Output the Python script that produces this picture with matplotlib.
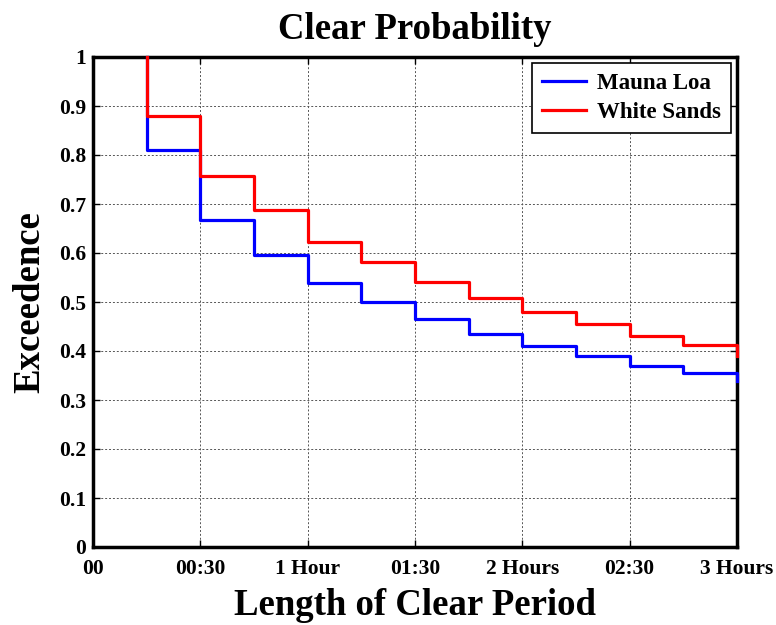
import matplotlib
matplotlib.use("Agg")
import matplotlib.pyplot as plt

# minutes since start of clear period
minutes = [15, 30, 45, 60, 75, 90, 105, 120, 135, 150, 165, 180, 180]
mauna_loa = [1.0, 0.810, 0.668, 0.595, 0.538, 0.500, 0.466, 0.434, 0.410, 0.389, 0.370, 0.355, 0.339]
white_sands = [1.0, 0.879, 0.757, 0.688, 0.622, 0.582, 0.541, 0.509, 0.479, 0.456, 0.431, 0.413, 0.390]

xtick_pos = [0, 30, 60, 90, 120, 150, 180]
xtick_labels = ["00", "00:30", "1 Hour", "01:30", "2 Hours", "02:30", "3 Hours"]
ytick_pos = [0, 0.1, 0.2, 0.3, 0.4, 0.5, 0.6, 0.7, 0.8, 0.9, 1]
ytick_labels = ["0", "0.1", "0.2", "0.3", "0.4", "0.5", "0.6", "0.7", "0.8", "0.9", "1"]

plt.rcParams["font.family"] = "Liberation Serif"
plt.rcParams["font.weight"] = "bold"

fig = plt.figure(figsize=(7.76, 6.25), dpi=100)
ax = fig.add_axes([93 / 776, 1 - 547 / 625, (737 - 93) / 776, (547 - 57) / 625])

ax.plot(minutes, mauna_loa, drawstyle="steps-pre", color="#0000ff", lw=2.3,
        label="Mauna Loa", clip_on=False, zorder=5)
ax.plot(minutes, white_sands, drawstyle="steps-pre", color="#ff0000", lw=2.3,
        label="White Sands", clip_on=False, zorder=6)

ax.set_xlim(0, 180)
ax.set_ylim(0, 1)
ax.set_xticks(xtick_pos)
ax.set_xticklabels(xtick_labels, fontsize=15.5, fontweight="bold")
ax.set_yticks(ytick_pos)
ax.set_yticklabels(ytick_labels, fontsize=15.5, fontweight="bold")
ax.tick_params(direction="in", length=5, width=1, top=True, right=True)
ax.tick_params(axis="x", pad=9)
ax.tick_params(axis="y", pad=5)
ax.grid(True, color="#555555", linestyle=(0, (2, 2)), linewidth=0.7)
for s in ax.spines.values():
    s.set_linewidth(2.5)
    s.set_zorder(4)

ax.set_title("Clear Probability", fontsize=26.5, fontweight="bold", pad=13)
ax.set_xlabel("Length of Clear Period", fontsize=26.5, fontweight="bold", labelpad=6)
ax.set_ylabel("Exceedence", fontsize=26.5, fontweight="bold", labelpad=8)

leg = ax.legend(loc="upper right", fontsize=16.5, fancybox=False, edgecolor="black",
                framealpha=1, handlelength=1.9, handletextpad=0.5,
                borderaxespad=0.25, borderpad=0.45, labelspacing=0.35)
leg.get_frame().set_linewidth(1.2)
leg.set_zorder(10)
for t in leg.get_texts():
    t.set_fontweight("bold")

fig.savefig("out.png", dpi=100)
